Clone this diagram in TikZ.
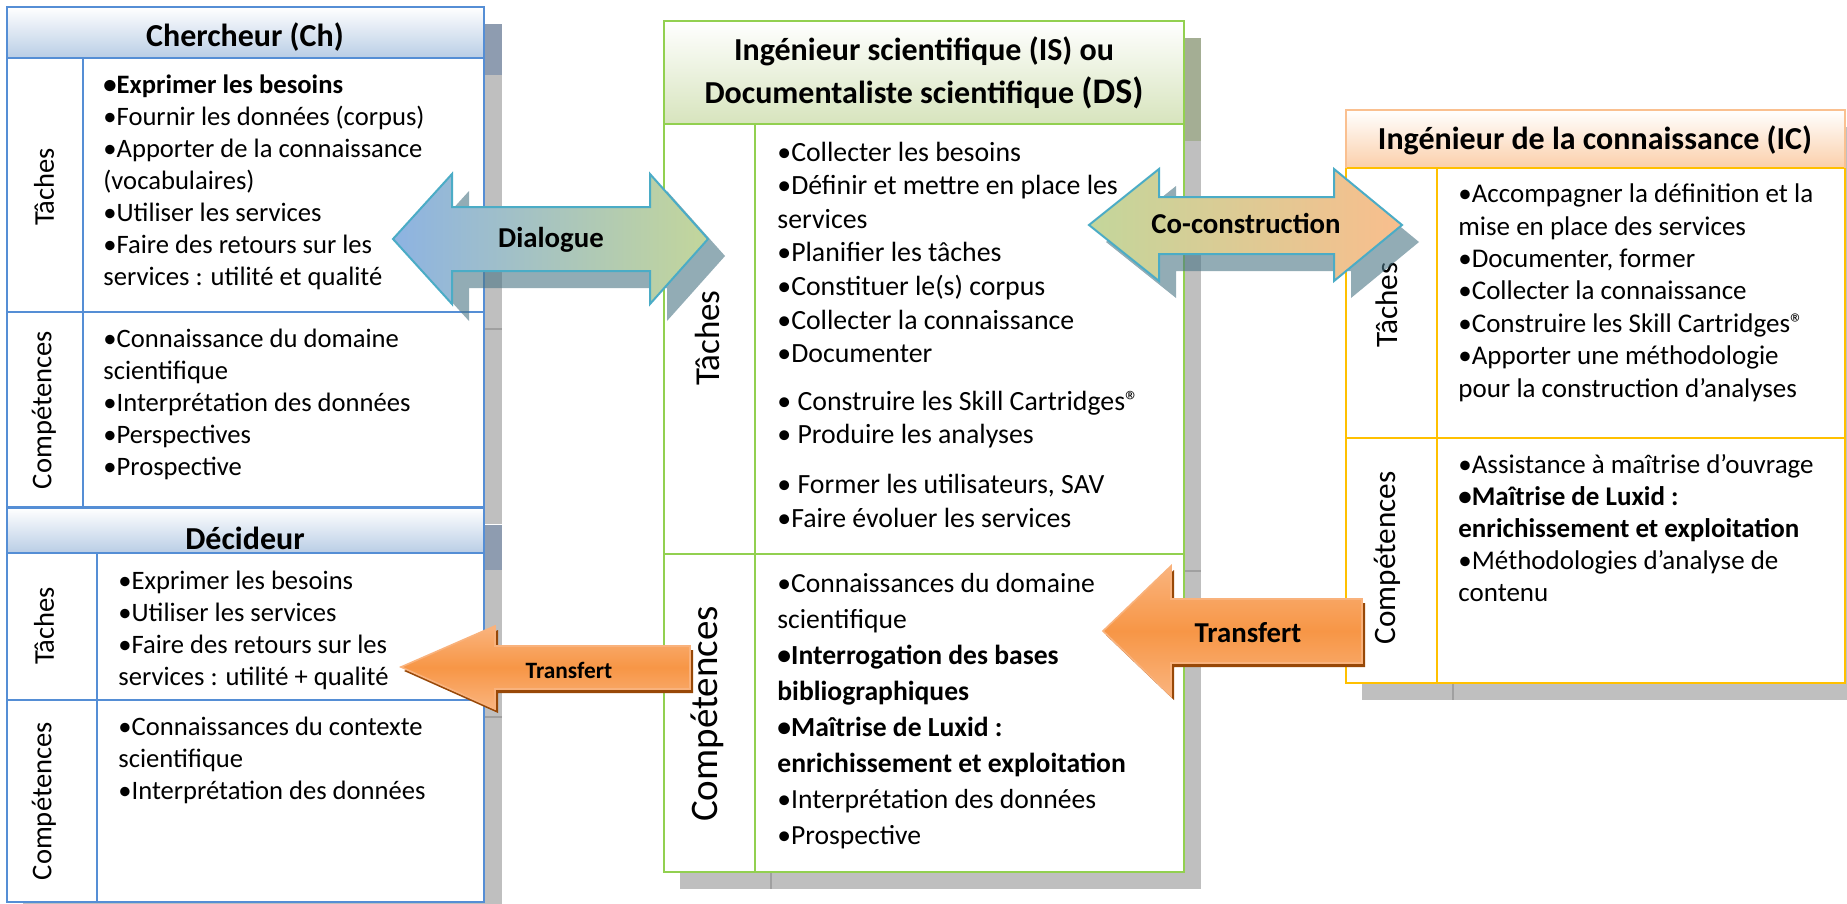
\documentclass[tikz,border=0pt]{standalone}
\usepackage{fontspec}
\setmainfont{Carlito}
\definecolor{chline}{HTML}{558ED5}
\definecolor{chhead}{HTML}{B9CDE5}
\definecolor{chshade}{HTML}{8E9CB0}
\definecolor{isline}{HTML}{92D050}
\definecolor{ishead}{HTML}{D7E4BD}
\definecolor{isshade}{HTML}{A4AE94}
\definecolor{icline}{HTML}{FFC000}
\definecolor{icheadline}{HTML}{FAC090}
\definecolor{ichead}{HTML}{FBCFAA}
\definecolor{shadowgray}{HTML}{BFBFBF}
\definecolor{shadowline}{HTML}{A0A0A0}
\definecolor{arrblue}{HTML}{8DB3E2}
\definecolor{arrgreen}{HTML}{C3D69B}
\definecolor{arrpeach}{HTML}{F9BE8D}
\definecolor{arrteal}{HTML}{4BACC6}
\definecolor{arrshadow}{HTML}{4A7585}
\definecolor{orangemain}{HTML}{F79646}
\definecolor{orangelight}{HTML}{FAB47E}
\definecolor{orangeedge}{HTML}{F9B27C}
\definecolor{orangedark}{HTML}{984807}
\begin{document}
\begin{tikzpicture}[x=0.5pt, y=-0.5pt]
    \tikzstyle{boxshadow} = [fill=shadowgray]
    \tikzstyle{shadowrule} = [draw=shadowline, line width=1pt]
    \tikzstyle{chbox} = [draw=chline, line width=1pt]
    \tikzstyle{isbox} = [draw=isline, line width=1pt]
    \tikzstyle{icbox} = [draw=icline, line width=1pt]
    \tikzstyle{rolehead} = [anchor=base, inner sep=0pt, font=\bfseries\fontsize{16}{19}\selectfont]
    \tikzstyle{rowlabel} = [rotate=90, inner sep=0pt]
    % anchored on the baseline of the last line
    \tikzstyle{items} = [anchor=base west, align=left, inner sep=0pt, font=\fontsize{13.3}{16}\selectfont]
    \tikzstyle{link} = [draw=arrteal, line width=1pt]
    \tikzstyle{linkshadow} = [fill=arrshadow, opacity=0.6]
    \tikzstyle{transfer} = [draw=orangeedge, line width=0.8pt, top color=orangelight, bottom color=orangelight, middle color=orangemain]
    \tikzstyle{transfershadow} = [fill=orangedark]
    \tikzstyle{linklabel} = [anchor=base, inner sep=0pt, font=\bfseries\fontsize{14.4}{17}\selectfont]
    \useasboundingbox[fill=white] (0,0) rectangle (1847,904);

    % shadows of the tables
    \fill[boxshadow] (23,24) rectangle (502,524);
    \fill[chshade] (23,24) rectangle (502,75);
    \draw[shadowrule] (23,329) -- (502,329);
    \fill[boxshadow] (23,525) rectangle (502,920);
    \fill[chshade] (23,525) rectangle (502,570);
    \draw[shadowrule] (23,717) -- (502,717);
    \fill[boxshadow] (680,38) rectangle (1201,889);
    \fill[isshade] (680,38) rectangle (1201,141);
    \draw[shadowrule] (680,571) -- (1201,571) (771,141) -- (771,889);
    \fill[boxshadow] (1362,127) rectangle (1862,700);
    \draw[shadowrule] (1453,185) -- (1453,700);

    % Chercheur
    \fill[white] (7,7) rectangle (484,507);
    \shade[top color=white, bottom color=chhead] (7,7) rectangle (484,58);
    \draw[chbox] (7,7) rectangle (484,507);
    \draw[chbox] (7,58) -- (484,58) (83,58) -- (83,507) (7,312) -- (484,312);
    \node[rolehead] (ch-head) at (245,47) {Chercheur (Ch)};
    \node[rowlabel, font=\fontsize{14.3}{17}\selectfont] (ch-tlab) at (44,187) {Tâches};
    \node[rowlabel, font=\fontsize{14.3}{17}\selectfont] (ch-clab) at (44,410) {Compétences};
    \node[items] (ch-taches) at (103,285) {\textbf{•Exprimer les besoins}\\•Fournir les données (corpus)\\•Apporter de la connaissance\\(vocabulaires)\\•Utiliser les services\\•Faire des retours sur les\\services : utilité et qualité};
    \node[items] (ch-comp) at (103,475) {•Connaissance du domaine\\scientifique\\•Interprétation des données\\•Perspectives\\•Prospective};

    % Decideur
    \fill[white] (7,508) rectangle (484,902);
    \shade[top color=white, bottom color=chhead] (7,508) rectangle (484,553);
    \draw[chbox] (7,508) rectangle (484,902);
    \draw[chbox] (7,553) -- (484,553) (97,553) -- (97,902) (7,700) -- (484,700);
    \node[rolehead] (dec-head) at (245,549) {Décideur};
    \node[rowlabel, font=\fontsize{14.3}{17}\selectfont] (dec-tlab) at (44,626) {Tâches};
    \node[rowlabel, font=\fontsize{14.3}{17}\selectfont] (dec-clab) at (44,801) {Compétences};
    \node[items] (dec-taches) at (118,685) {•Exprimer les besoins\\•Utiliser les services\\•Faire des retours sur les\\services : utilité + qualité};
    \node[items] (dec-comp) at (118,799) {•Connaissances du contexte\\scientifique\\•Interprétation des données};

    % Ingenieur scientifique
    \fill[white] (664,21) rectangle (1184,872);
    \shade[top color=white, bottom color=ishead] (664,21) rectangle (1184,124);
    \draw[isbox] (664,21) rectangle (1184,872);
    \draw[isbox] (664,124) -- (1184,124) (755,124) -- (755,872) (664,554) -- (1184,554);
    \node[rolehead] (is-head) at (924,61) {Ingénieur scientifique (IS) ou};
    \node[rolehead] (is-head2) at (924,104) {Documentaliste scientifique {\fontsize{18}{20}\selectfont(DS)}};
    \node[rowlabel, font=\fontsize{17.5}{20}\selectfont] (is-tlab) at (707,338) {Tâches};
    \node[rowlabel, font=\fontsize{19.5}{22}\selectfont] (is-clab) at (707,714) {Compétences};
    \node[items, font=\fontsize{13.9}{16.8}\selectfont] (is-taches) at (777,527) {•Collecter les besoins\\•Définir et mettre en place les\\services\\•Planifier les tâches\\•Constituer le(s) corpus\\•Collecter la connaissance\\•Documenter\\[7pt]• Construire les Skill Cartridges®\\• Produire les analyses\\[8pt]• Former les utilisateurs, SAV\\•Faire évoluer les services};
    \node[items, font=\fontsize{13.8}{18}\selectfont] (is-comp) at (777,844) {•Connaissances du domaine\\scientifique\\\textbf{•Interrogation des bases}\\\textbf{bibliographiques}\\\textbf{•Maîtrise de Luxid :}\\\textbf{enrichissement et exploitation}\\•Interprétation des données\\•Prospective};

    % Ingenieur de la connaissance
    \fill[white] (1346,110) rectangle (1845,683);
    \shade[top color=white, bottom color=ichead] (1346,110) rectangle (1845,168);
    \draw[icbox] (1346,168) rectangle (1845,683);
    \draw[icbox] (1437,168) -- (1437,683) (1346,438) -- (1845,438);
    \draw[draw=icheadline, line width=1pt] (1346,168) -- (1346,110) -- (1845,110) -- (1845,168);
    \node[rolehead] (ic-head) at (1595,149) {Ingénieur de la connaissance (IC)};
    \node[rowlabel, font=\fontsize{15.6}{18}\selectfont] (ic-tlab) at (1387,305) {Tâches};
    \node[rowlabel, font=\fontsize{15.6}{18}\selectfont] (ic-clab) at (1387,558) {Compétences};
    \node[items, font=\fontsize{13.5}{16.2}\selectfont] (ic-taches) at (1458,397) {•Accompagner la définition et la\\mise en place des services\\•Documenter, former\\•Collecter la connaissance\\•Construire les Skill Cartridges®\\•Apporter une méthodologie\\pour la construction d’analyses};
    \node[items, font=\fontsize{13.5}{16}\selectfont] (ic-comp) at (1458,601) {•Assistance à maîtrise d’ouvrage\\\textbf{•Maîtrise de Luxid :}\\\textbf{enrichissement et exploitation}\\•Méthodologies d’analyse de\\contenu};

    % Dialogue
    \fill[linkshadow, shift={(17,17)}] (393,239) -- (452,174) -- (452,207) -- (650,207) -- (650,174) -- (708,239) -- (650,304) -- (650,271) -- (452,271) -- (452,304) -- cycle;
    \shadedraw[link, left color=arrblue, right color=arrgreen] (393,239) -- (452,174) -- (452,207) -- (650,207) -- (650,174) -- (708,239) -- (650,304) -- (650,271) -- (452,271) -- (452,304) -- cycle;
    \node[linklabel] (dialogue) at (551,247) {Dialogue};

    % Co-construction
    \fill[linkshadow, shift={(17,17)}] (1089,225) -- (1159,169) -- (1159,197) -- (1334,197) -- (1334,169) -- (1402,225) -- (1334,281) -- (1334,254) -- (1159,254) -- (1159,281) -- cycle;
    \shadedraw[link, left color=arrgreen, right color=arrpeach] (1089,225) -- (1159,169) -- (1159,197) -- (1334,197) -- (1334,169) -- (1402,225) -- (1334,281) -- (1334,254) -- (1159,254) -- (1159,281) -- cycle;
    \node[linklabel] (coconstruction) at (1246,233) {Co-construction};

    % Transfert
    \fill[transfershadow, shift={(3,4)}] (1103,631) -- (1171,566) -- (1171,599) -- (1362,599) -- (1362,663) -- (1171,663) -- (1171,696) -- cycle;
    \shadedraw[transfer] (1103,631) -- (1171,566) -- (1171,599) -- (1362,599) -- (1362,663) -- (1171,663) -- (1171,696) -- cycle;
    \node[linklabel] (transfert-ic) at (1248,642) {Transfert};
    \fill[transfershadow, shift={(3,4)}] (401,667) -- (495,626) -- (495,646) -- (690,646) -- (690,689) -- (495,689) -- (495,709) -- cycle;
    \shadedraw[transfer] (401,667) -- (495,626) -- (495,646) -- (690,646) -- (690,689) -- (495,689) -- (495,709) -- cycle;
    \node[linklabel, font=\bfseries\fontsize{11.7}{14}\selectfont] (transfert-is) at (569,678) {Transfert};
\end{tikzpicture}
\end{document}
